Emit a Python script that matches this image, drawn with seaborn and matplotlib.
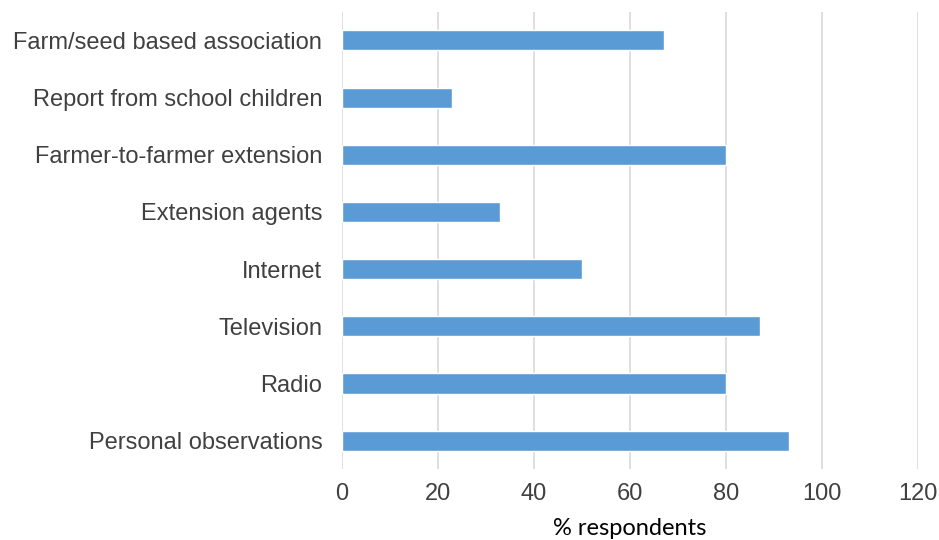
import pandas as pd
import matplotlib.pyplot as plt
import seaborn as sns

sources = ['Farm/seed based association', 'Report from school children',
           'Farmer-to-farmer extension', 'Extension agents', 'Internet',
           'Television', 'Radio', 'Personal observations']
pct = [67, 23, 80, 33, 50, 87, 80, 93]
xticks = [0, 20, 40, 60, 80, 100, 120]

df = pd.DataFrame({'Source': sources, 'Percent': pct})

sns.set_style('white')
plt.rcParams['font.family'] = ['Liberation Sans', 'DejaVu Sans']

fig = plt.figure(figsize=(9.39, 5.4), dpi=100)
ax = fig.add_axes([0.364, 0.131, 0.614, 0.847])

sns.barplot(x='Percent', y='Source', data=df, color='#5B9BD5', width=0.35,
            saturation=1, ax=ax)

ax.set_xlim(0, 120)
ax.set_xticks(xticks)
ax.grid(axis='x', color='#D9D9D9', linewidth=1.2)
ax.set_axisbelow(True)
for s in ax.spines.values():
    s.set_visible(False)

ax.tick_params(axis='both', length=0, labelcolor='#404040', labelsize=17)
ax.tick_params(axis='y', pad=14)
ax.tick_params(axis='x', pad=10)
ax.set_ylabel('')
ax.set_xlabel('% respondents', fontsize=17, family=['Lato', 'DejaVu Sans'],
              color='black', labelpad=9)

fig.savefig('out.png', dpi=100)
